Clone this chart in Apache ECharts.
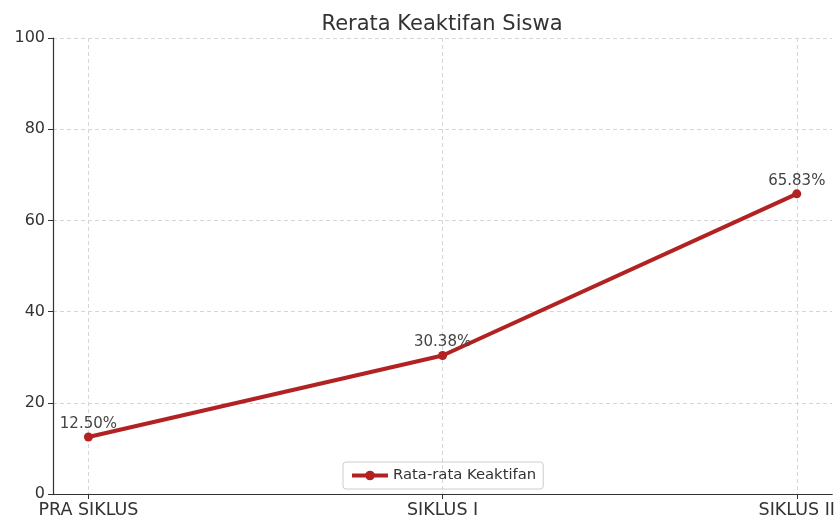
<!DOCTYPE html>
<html>
<head>
<meta charset="utf-8">
<script src="https://cdn.jsdelivr.net/npm/echarts@6/dist/echarts.min.js"></script>
<style>
  html, body { margin: 0; padding: 0; background: #fff; }
  #main { width: 838px; height: 519px; }
</style>
</head>
<body>
<div id="main"></div>
<script>
// chart data
var categories = ['PRA SIKLUS', 'SIKLUS I', 'SIKLUS II']
var keaktifan = [12.50, 30.38, 65.83]
var yTicks = [0, 20, 40, 60, 80, 100]
var xPos = [0, 1, 2]

var font = 'DejaVu Sans'
var chart = echarts.init(document.getElementById('main'))

chart.setOption({
  animation: false,
  textStyle: { fontFamily: font },
  title: {
    text: 'Rerata Keaktifan Siswa',
    left: 437,
    textAlign: 'center',
    top: 9,
    textStyle: { fontFamily: font, fontSize: 21, fontWeight: 'normal', color: '#333' }
  },
  grid: { left: 53, right: 5.5, top: 38, bottom: 24 },
  legend: {
    bottom: 30,
    left: 343,
    itemWidth: 36,
    itemHeight: 12,
    itemGap: 8,
    padding: [6, 7, 6, 7],
    borderColor: '#ccc',
    borderWidth: 1,
    borderRadius: 3,
    lineStyle: { width: 4 },
    textStyle: { fontFamily: font, fontSize: 14.8, color: '#333' }
  },
  xAxis: {
    type: 'value',
    min: -0.1,
    max: 2.1,
    axisLine: { onZero: false, lineStyle: { color: '#333', width: 1.2 } },
    axisTick: { show: true, length: 5, customValues: xPos, lineStyle: { color: '#333' } },
    axisLabel: {
      fontSize: 17.5,
      color: '#333',
      margin: 7,
      customValues: xPos,
      formatter: function (v) { return categories[Math.round(v)] || '' }
    },
    splitLine: { show: true, lineStyle: { color: '#d6d6d6', type: [4, 3] } }
  },
  yAxis: {
    type: 'value',
    min: yTicks[0],
    max: yTicks[yTicks.length - 1],
    interval: yTicks[1] - yTicks[0],
    axisLine: { show: true, onZero: false, lineStyle: { color: '#333', width: 1.2 } },
    axisTick: { show: true, length: 5, lineStyle: { color: '#333' } },
    axisLabel: { fontSize: 16, color: '#333', margin: 8 },
    splitLine: { show: true, lineStyle: { color: '#d6d6d6', type: [4, 3] } }
  },
  series: [{
    name: 'Rata-rata Keaktifan',
    type: 'line',
    data: keaktifan.map(function (v, i) { return [xPos[i], v] }),
    symbol: 'circle',
    symbolSize: 9,
    itemStyle: { color: '#b22222' },
    lineStyle: { color: '#b22222', width: 4 },
    label: {
      show: true,
      position: 'top',
      distance: 1,
      fontSize: 15,
      color: '#444',
      formatter: function (p) { return p.value[1].toFixed(2) + '%' }
    }
  }]
})
</script>
</body>
</html>
